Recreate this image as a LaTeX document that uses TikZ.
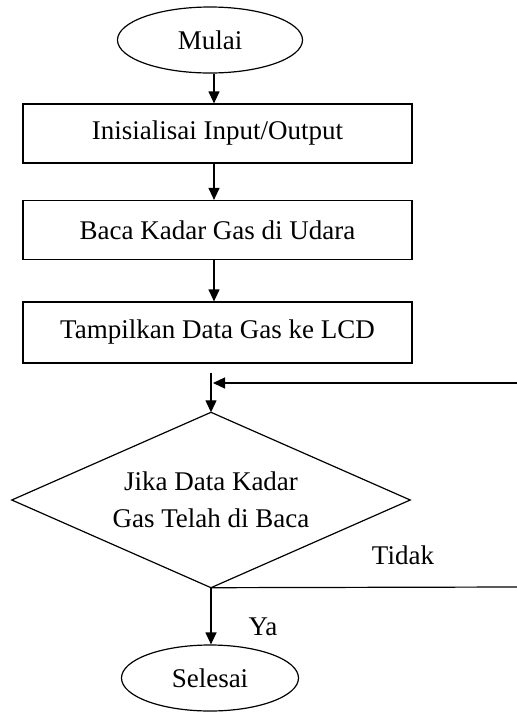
\documentclass[tikz,border=0pt]{standalone}
\usepackage{fontspec}
\setmainfont{Liberation Serif}
\usetikzlibrary{shapes.geometric,arrows.meta}
\begin{document}
\begin{tikzpicture}[x=1pt,y=-1pt,
  every node/.style={font=\fontsize{27}{37}\selectfont},
  term/.style={draw,ellipse,line width=1.2pt,inner sep=0pt},
  proc/.style={draw,rectangle,line width=1.2pt,minimum width=389pt,inner sep=0pt},
  dec/.style={rectangle,minimum width=398pt,minimum height=175pt,inner sep=0pt,align=center},
  conn/.style={line width=1.2pt,-{Triangle[length=12pt,width=11pt]}},
  plain/.style={line width=1.2pt}]
\useasboundingbox (0,0) rectangle (517,713);
\node[term,minimum width=185pt,minimum height=66pt] (start) at (210,40) {Mulai};
\node[proc,minimum height=59pt] (b1) at (217.5,133.5) {Inisialisai Input/Output};
\node[proc,minimum height=59pt] (b2) at (217.5,230) {Baca Kadar Gas di Udara};
\node[proc,minimum height=61pt] (b3) at (217.5,332.5) {Tampilkan Data Gas ke LCD};
\node[dec] (d) at (211,500) {Jika Data Kadar\\Gas Telah di Baca};
\draw[plain] (d.north) -- (d.east) -- (d.south) -- (d.west) -- cycle;
\node[term,minimum width=177pt,minimum height=66pt] (end) at (210,678) {Selesai};
\node (tidak) at (403,555) {Tidak};
\node (ya) at (263,627) {Ya};
\coordinate (loopin) at (517,383);
\coordinate (loopout) at (517,587);
\coordinate (join) at (213,383);
\draw[conn] (start.south -| 214,0) -- (b1.north -| 214,0);
\draw[conn] (b1.south -| 214,0) -- (b2.north -| 214,0);
\draw[conn] (b2.south -| 214,0) -- (b3.north -| 214,0);
\draw[conn,shorten <=9pt] (b3.south -| d.north) -- (d.north);
\draw[conn] (loopin) -- (join);
\draw[plain] (d.south) -- (loopout);
\draw[conn] (d.south) -- (d.south |- end.north);
\end{tikzpicture}
\end{document}
